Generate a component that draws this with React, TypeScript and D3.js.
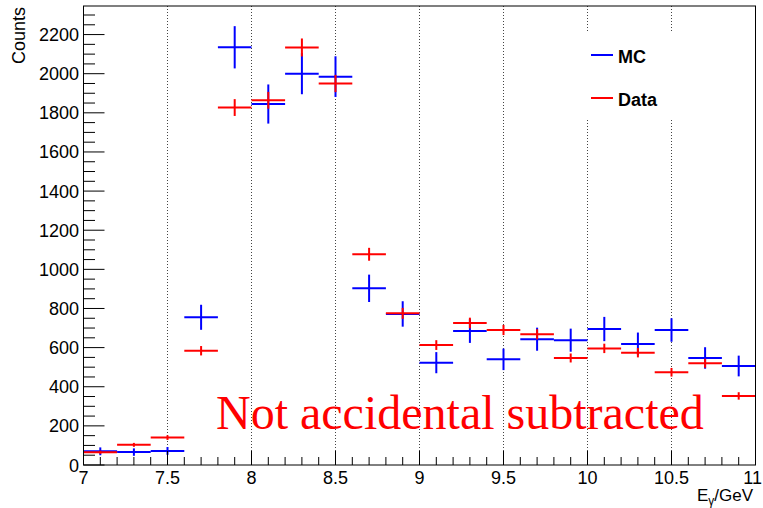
import React from "react";
import * as d3 from "d3";

const energies = [7.1, 7.3, 7.5, 7.7, 7.9, 8.1, 8.3, 8.5, 8.7, 8.9, 9.1, 9.3, 9.5, 9.7, 9.9, 10.1, 10.3, 10.5, 10.7, 10.9];
const mcCounts = [70, 66, 72, 755, 2135, 1845, 2000, 1985, 903, 772, 523, 685, 540, 643, 638, 695, 619, 690, 547, 506];
const mcErrors = [20, 19, 20, 64, 108, 100, 105, 104, 70, 65, 54, 61, 55, 59, 59, 62, 58, 60, 55, 53];
const dataCounts = [65, 103, 140, 584, 1827, 1864, 2134, 1950, 1077, 775, 613, 726, 690, 668, 547, 596, 574, 474, 520, 353];
const dataErrors = [8, 10, 12, 24, 43, 43, 46, 44, 33, 28, 25, 27, 26, 26, 23, 24, 24, 22, 23, 19];
const binWidth = 0.2;
const yTickLabels = ["0", "200", "400", "600", "800", "1000", "1200", "1400", "1600", "1800", "2000", "2200"];
const xTickLabels = ["7", "7.5", "8", "8.5", "9", "9.5", "10", "10.5", "11"];
const legendLabels = ["MC", "Data"];
const overlayText = "Not accidental subtracted";

const W = 763;
const H = 508;
const L = 83.5, R = 755.5, T = 6, B = 465;

export default function App() {
  const x = d3.scaleLinear().domain([7, 11]).range([L, R]);
  const y = d3.scaleLinear().domain([0, 2346]).range([B, T]);
  const sans = "'Liberation Sans', Arial, Helvetica, sans-serif";

  const yMinor = d3.range(0, 2301, 50);
  const xMinor = d3.range(0, 41).map((i) => 7 + i * 0.1);

  const series = (vals: number[], errs: number[], color: string, key: string) =>
    energies.map((e, i) => (
      <g key={key + i} stroke={color} strokeWidth={2}>
        <line x1={x(e - binWidth / 2)} x2={x(e + binWidth / 2)} y1={y(vals[i])} y2={y(vals[i])} />
        <line x1={x(e)} x2={x(e)} y1={y(vals[i] - errs[i])} y2={y(vals[i] + errs[i])} />
      </g>
    ));

  return (
    <svg width={W} height={H} style={{ position: "absolute", left: 0, top: 0, background: "#fff" }}>
      <rect x={0} y={0} width={W} height={H} fill="#fff" />
      {xTickLabels.slice(1, -1).map((t) => (
        <line key={"g" + t} x1={x(+t)} x2={x(+t)} y1={T} y2={B} stroke="#444" strokeWidth={1} strokeDasharray="1 2" />
      ))}
      {series(mcCounts, mcErrors, "#0000ff", "mc")}
      {series(dataCounts, dataErrors, "#ff0000", "data")}
      <rect x={578} y={31} width={122} height={89} fill="#fff" />
      {legendLabels.map((lab, i) => {
        const ly = i === 0 ? 55 : 98;
        const col = i === 0 ? "#0000ff" : "#ff0000";
        return (
          <g key={lab}>
            <line x1={591} x2={613} y1={ly} y2={ly} stroke={col} strokeWidth={2} />
            <text x={618} y={ly + 8} fontFamily={sans} fontWeight="bold" fontSize={18} fill="#000">{lab}</text>
          </g>
        );
      })}
      <text x={216} y={429} fontFamily="'Liberation Serif', 'Times New Roman', serif" fontSize={48} fill="#ff0000">{overlayText}</text>
      <rect x={L} y={T} width={R - L} height={B - T} fill="none" stroke="#000" strokeWidth={1} />
      {yMinor.map((v) => (
        <line key={"ym" + v} x1={L} x2={L + (v % 200 === 0 ? 21 : 11.5)} y1={y(v)} y2={y(v)} stroke="#000" strokeWidth={1} />
      ))}
      {yTickLabels.map((t) => (
        <text key={"yl" + t} x={79} y={y(+t) + 6.5} textAnchor="end" fontFamily={sans} fontSize={18} fill="#000">{t}</text>
      ))}
      {xMinor.map((v, i) => (
        <line key={"xm" + i} x1={x(v)} x2={x(v)} y1={B} y2={B - (i % 5 === 0 ? 14 : 8)} stroke="#000" strokeWidth={1} />
      ))}
      {xTickLabels.map((t, i) => {
        const last = i === xTickLabels.length - 1;
        return (
          <text key={"xl" + t} x={last ? 762 : x(+t)} y={484} textAnchor={last ? "end" : "middle"} fontFamily={sans} fontSize={18} fill="#000">{t}</text>
        );
      })}
      <text x={25} y={7} transform="rotate(-90 25 7)" textAnchor="end" fontFamily={sans} fontSize={18} fill="#000">Counts</text>
      <text x={753} y={501} textAnchor="end" fontFamily={sans} fontSize={17} fill="#000">
        E<tspan fontSize={12} dy={4}>γ</tspan><tspan dy={-4}>/GeV</tspan>
      </text>
    </svg>
  );
}
